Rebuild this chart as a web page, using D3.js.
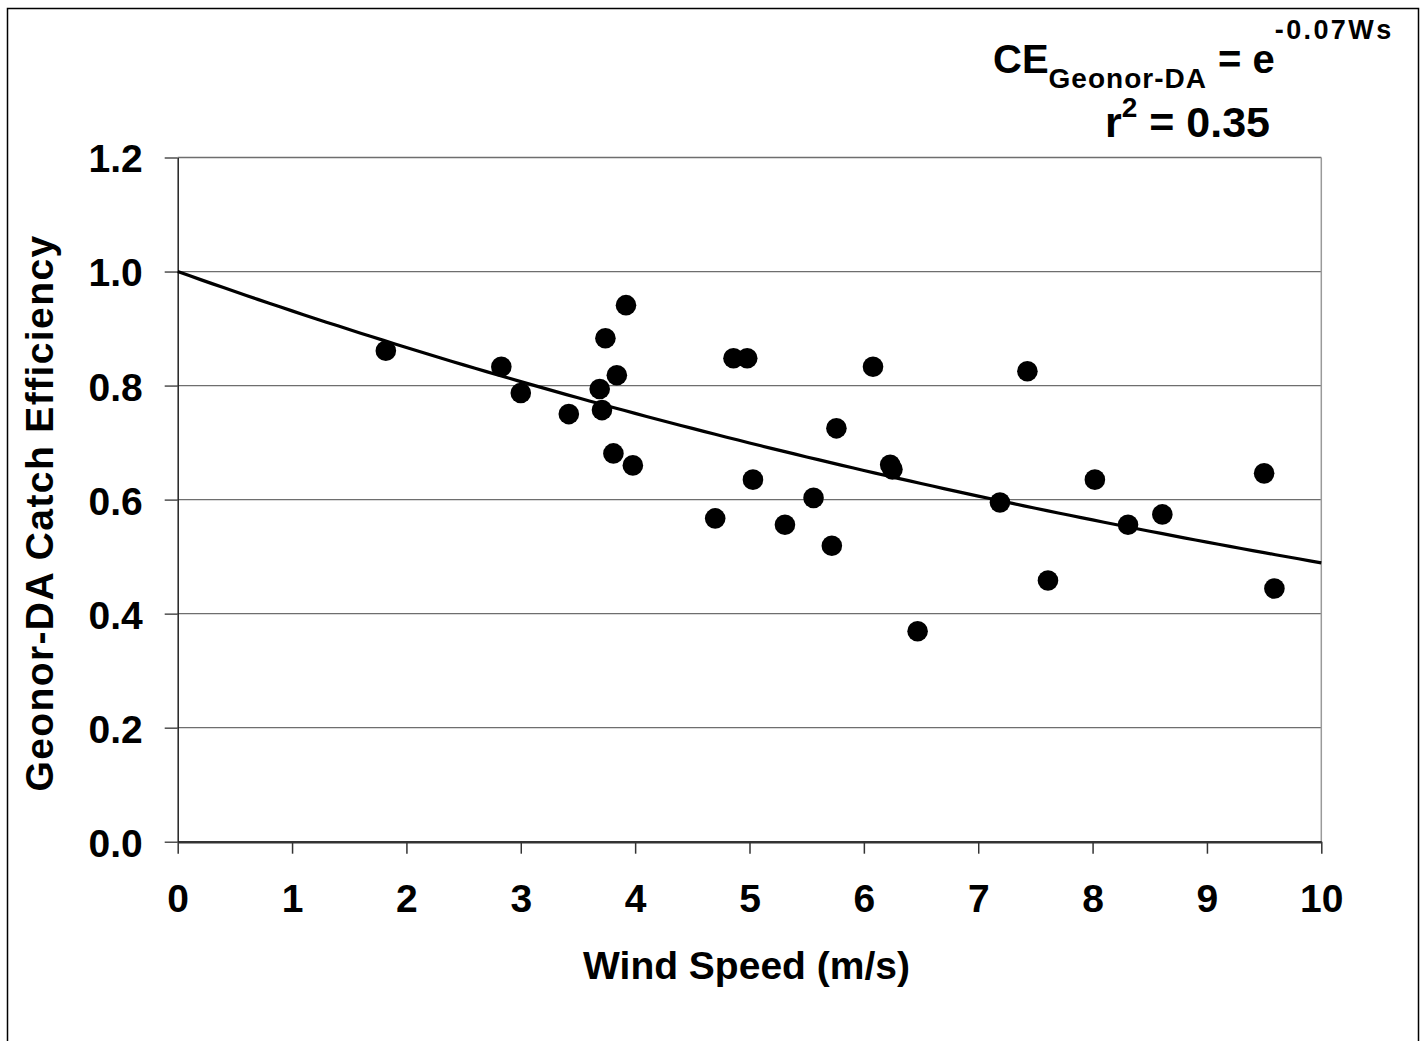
<!DOCTYPE html>
<html>
<head>
<meta charset="utf-8">
<script src="https://cdn.jsdelivr.net/npm/d3@7/dist/d3.min.js"></script>
<style>
  html, body { margin: 0; padding: 0; background: #fff; }
  svg { display: block; }
  text { font-family: "Liberation Sans", Arial, sans-serif; font-weight: bold; fill: #000; }
</style>
</head>
<body>
<svg id="chart" width="1426" height="1041"></svg>
<script>
// ---- data ----
const windSpeed = [1.82, 2.83, 3.00, 3.42, 3.69, 3.71, 3.74, 3.92, 3.84, 3.81, 3.98,
                   4.70, 4.86, 4.98, 5.03, 5.31, 5.56, 5.72, 5.76, 6.08, 6.23, 6.25,
                   6.47, 7.19, 7.43, 7.61, 8.02, 8.31, 8.61, 9.50, 9.59];
const catchEff  = [0.861, 0.833, 0.787, 0.750, 0.794, 0.757, 0.883, 0.941, 0.818, 0.681, 0.660,
                   0.567, 0.848, 0.848, 0.635, 0.556, 0.603, 0.519, 0.725, 0.833, 0.661, 0.653,
                   0.369, 0.595, 0.825, 0.458, 0.635, 0.556, 0.574, 0.646, 0.444];
const xTicks = [0, 1, 2, 3, 4, 5, 6, 7, 8, 9, 10];
const yTicks = [0.0, 0.2, 0.4, 0.6, 0.8, 1.0, 1.2];
const xTitle = "Wind Speed (m/s)";
const yTitle = "Geonor-DA Catch Efficiency";

// exponential fit through (0,1): ln(CE) = b * Ws
const points = windSpeed.map((x, i) => ({x, y: catchEff[i]}));
const bFit = d3.sum(points, p => p.x * Math.log(p.y)) / d3.sum(points, p => p.x * p.x);

const svg = d3.select("#chart");
const pLeft = 177.7, pRight = 1321.3, pTop = 157.5, pBottom = 841.7;
const x = d3.scaleLinear().domain([0, 10]).range([pLeft, pRight]);
const y = d3.scaleLinear().domain([0, 1.2]).range([pBottom, pTop]);

// outer chart border
svg.append("rect").attr("x", 7.5).attr("y", 8.5).attr("width", 1411).attr("height", 1045)
  .attr("fill", "none").attr("stroke", "#000").attr("stroke-width", 1.5);

// gridlines
svg.append("g").selectAll("line").data(yTicks.filter(d => d > 0)).join("line")
  .attr("x1", pLeft).attr("x2", pRight)
  .attr("y1", d => y(d)).attr("y2", d => y(d))
  .attr("stroke", "#6e6e6e").attr("stroke-width", 1.3);

// plot area right border
svg.append("line").attr("x1", pRight).attr("x2", pRight).attr("y1", pTop).attr("y2", pBottom)
  .attr("stroke", "#9a9a9a").attr("stroke-width", 1.5);

// x axis
const xAxis = svg.append("g").attr("transform", `translate(0,${pBottom})`)
  .call(d3.axisBottom(x).tickValues(xTicks).tickFormat(d3.format("d")).tickSizeInner(12).tickSizeOuter(0).tickPadding(31));
xAxis.select(".domain").attr("stroke", "#333").attr("stroke-width", 2.5);
xAxis.selectAll(".tick line").attr("stroke", "#333").attr("stroke-width", 1.5);
xAxis.selectAll("text").attr("font-size", 39).attr("font-family", "'Liberation Sans', Arial, sans-serif")
  .attr("font-weight", "bold").attr("fill", "#000");

// y axis
const yAxis = svg.append("g").attr("transform", `translate(${pLeft},0)`)
  .call(d3.axisLeft(y).tickValues(yTicks).tickFormat(d3.format(".1f")).tickSizeInner(13).tickSizeOuter(0).tickPadding(22));
yAxis.select(".domain").attr("stroke", "#222").attr("stroke-width", 1.5);
yAxis.selectAll(".tick line").attr("stroke", "#333").attr("stroke-width", 1.3);
yAxis.selectAll("text").attr("font-size", 39).attr("font-family", "'Liberation Sans', Arial, sans-serif")
  .attr("font-weight", "bold").attr("fill", "#000").attr("dy", "0.37em");

// trend line
const fitLine = d3.range(0, 10.0001, 0.1).map(v => ({x: v, y: Math.exp(bFit * v)}));
svg.append("path").datum(fitLine)
  .attr("d", d3.line().x(d => x(d.x)).y(d => y(d.y)))
  .attr("fill", "none").attr("stroke", "#000").attr("stroke-width", 3.2);

// points
svg.append("g").selectAll("circle").data(points).join("circle")
  .attr("cx", d => x(d.x)).attr("cy", d => y(d.y)).attr("r", 10.3).attr("fill", "#000");

// axis titles
svg.append("text").attr("x", 746.5).attr("y", 979).attr("text-anchor", "middle")
  .attr("font-size", 39).text(xTitle);
svg.append("text").attr("transform", "translate(53,513) rotate(-90)").attr("text-anchor", "middle")
  .attr("font-size", 39).attr("letter-spacing", 1.4).text(yTitle);

// equation annotation
const eq = svg.append("text").attr("x", 993).attr("y", 73).attr("text-anchor", "start").attr("font-size", 40);
eq.append("tspan").text("CE");
eq.append("tspan").attr("font-size", 28).attr("letter-spacing", 1).attr("dy", 15).text("Geonor-DA");
eq.append("tspan").attr("dy", -15).text(" = e");
eq.append("tspan").attr("font-size", 27).attr("letter-spacing", 2.4).attr("dy", -34).text("-0.07Ws");

const r2 = svg.append("text").attr("x", 1105).attr("y", 137).attr("text-anchor", "start").attr("font-size", 43);
r2.append("tspan").text("r");
r2.append("tspan").attr("font-size", 28).attr("dy", -20).text("2");
r2.append("tspan").attr("dy", 20).text(" = 0.35");
</script>
</body>
</html>
